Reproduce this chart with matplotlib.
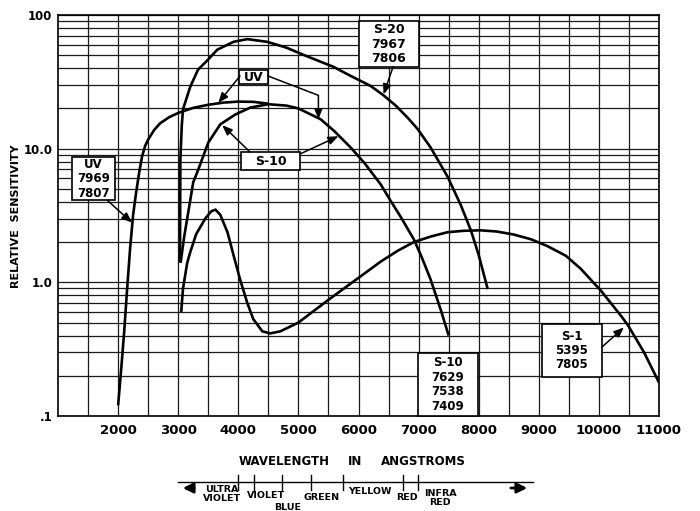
import matplotlib
matplotlib.use("Agg")
import matplotlib.pyplot as plt
from matplotlib.patches import Rectangle, FancyArrowPatch
from matplotlib.lines import Line2D
from matplotlib.ticker import FixedLocator, NullFormatter

plt.rcParams['font.family'] = ['DejaVu Sans']
plt.rcParams['font.weight'] = 'bold'

# ---- data (wavelength in Angstroms, relative sensitivity) ----
uv_wl = [2000, 2050, 2100, 2150, 2200, 2250, 2300, 2350, 2400, 2450, 2500, 2600,
         2700, 2850, 3000, 3250, 3500, 3750, 4000, 4250, 4500]
uv_val = [0.12, 0.22, 0.42, 0.89, 1.8, 3.2, 4.7, 6.6, 8.8, 10.5, 11.7, 13.8,
          15.5, 17.2, 18.5, 20.2, 21.3, 22.1, 22.5, 22.4, 21.7]

s10_wl = [3040, 3100, 3200, 3250, 3330, 3500, 3700, 3950, 4200, 4500, 4800, 5000,
          5370, 5600, 5870, 6100, 6370, 6530, 6700, 6920, 7050, 7200, 7370, 7500]
s10_val = [1.4, 2.2, 4.1, 5.6, 6.9, 11.1, 15.2, 18.0, 20.3, 21.5, 21.0, 20.0,
           16.6, 13.5, 10.2, 7.8, 5.4, 4.1, 3.1, 2.1, 1.55, 1.05, 0.62, 0.40]

s20_wl = [3030, 3033, 3036, 3060, 3080, 3200, 3330, 3500, 3650, 3920, 4150, 4480,
          4800, 5100, 5580, 5870, 6200, 6420, 6620, 6820, 6980, 7200, 7480, 7700,
          7870, 8000, 8150]
s20_val = [1.41, 4.0, 8.3, 15.0, 19.7, 29.0, 39.0, 46.5, 55.0, 63.0, 66.0, 63.0,
           57.0, 50.0, 41.0, 35.0, 29.5, 25.0, 21.0, 17.0, 14.1, 10.2, 6.2, 3.8,
           2.45, 1.6, 0.89]

s1_wl = [3050, 3080, 3150, 3200, 3300, 3370, 3450, 3550, 3620, 3700, 3820, 3920,
         4030, 4150, 4250, 4400, 4530, 4700, 5000, 5500, 6000, 6370, 6650, 6920,
         7200, 7480, 7750, 8030, 8300, 8580, 8870, 9150, 9450, 9700, 10030, 10370,
         10480, 10750, 11000]
s1_val = [0.6, 0.9, 1.4, 1.68, 2.3, 2.6, 3.0, 3.4, 3.5, 3.2, 2.37, 1.6,
          1.05, 0.7, 0.53, 0.43, 0.415, 0.43, 0.5, 0.74, 1.08, 1.43, 1.72, 2.0,
          2.2, 2.37, 2.43, 2.45, 2.4, 2.28, 2.1, 1.86, 1.58, 1.26, 0.87, 0.56,
          0.48, 0.30, 0.178]

x_ticks = [2000, 3000, 4000, 5000, 6000, 7000, 8000, 9000, 10000, 11000]
x_tick_labels = ['2000', '3000', '4000', '5000', '6000', '7000', '8000', '9000',
                 '10000', '11000']
y_ticks = [0.1, 1, 10, 100]
y_tick_labels = ['.1', '1.0', '10.0', '100']

spectrum_labels = ['ULTRA\nVIOLET', 'VIOLET', 'BLUE', 'GREEN', 'YELLOW', 'RED',
                   'INFRA\nRED']

# ---- figure ----
W, H = 700, 511
fig = plt.figure(figsize=(7.0, 5.11), dpi=100)
L, R, T, B = 58, 659, 15, 416
ax = fig.add_axes([L / W, 1 - B / H, (R - L) / W, (B - T) / H])

def af(x, y):
    return ((x - L) / (R - L), (B - y) / (B - T))

def ff(x, y):
    return (x / W, 1 - y / H)

ax.set_yscale('log')
ax.set_xlim(1000, 11000)
ax.set_ylim(0.1, 100)

ax.xaxis.set_major_locator(FixedLocator(x_ticks))
ax.set_xticklabels(x_tick_labels)
ax.xaxis.set_minor_locator(FixedLocator([1500 + 1000 * i for i in range(10)]))
ax.yaxis.set_major_locator(FixedLocator(y_ticks))
ax.set_yticklabels(y_tick_labels)
minor_y = [m * 10.0 ** e for e in (-1, 0, 1) for m in range(2, 10)]
ax.yaxis.set_minor_locator(FixedLocator(minor_y))
ax.yaxis.set_minor_formatter(NullFormatter())
ax.tick_params(which='both', length=0)
ax.tick_params(axis='x', pad=6, labelsize=9.5)
ax.tick_params(axis='y', pad=4, labelsize=8.5)
ax.grid(which='both', color='#1a1a1a', lw=0.9)
ax.set_axisbelow(True)
for s in ax.spines.values():
    s.set_linewidth(1.2)

# curves
for xs, ys in [(uv_wl, uv_val), (s10_wl, s10_val), (s20_wl, s20_val), (s1_wl, s1_val)]:
    ax.plot(xs, ys, color='black', lw=1.9, zorder=5, solid_capstyle='butt',
            solid_joinstyle='round')

# label boxes (pixel layout)
def box(x0, y0, x1, y1, text, fs=8.5, ls=1.15):
    (ax0, ay1) = af(x0, y1)
    (ax1, ay0) = af(x1, y0)
    ax.add_patch(Rectangle((ax0, ay1), ax1 - ax0, ay0 - ay1, transform=ax.transAxes,
                           facecolor='white', edgecolor='black', lw=1.2, zorder=3,
                           clip_on=False))
    cx, cy = af((x0 + x1) / 2, (y0 + y1) / 2)
    ax.text(cx, cy, text, transform=ax.transAxes, ha='center', va='center',
            fontsize=fs, fontweight='bold', linespacing=ls, zorder=4)

def arrow(start_px, tip, conn='arc3'):
    ax.annotate('', xy=tip, xycoords='data', xytext=af(*start_px),
                textcoords='axes fraction',
                arrowprops=dict(arrowstyle='-|>,head_length=0.55,head_width=0.22',
                                lw=1.1, color='black', shrinkA=0, shrinkB=0,
                                mutation_scale=11, connectionstyle=conn),
                zorder=6)

box(72, 157, 115, 200, 'UV\n7969\n7807')
arrow((107, 200), (2230, 2.8))

box(239, 70, 268, 84, 'UV', fs=9)
arrow((240, 76), (3667, 22))
arrow((268, 76), (5333, 16.6), conn='angle,angleA=-21,angleB=90,rad=0')

box(241, 152, 300, 170, 'S-10', fs=9)
arrow((250, 152), (3733, 15))
arrow((300, 154), (5667, 12.4))

box(359, 21, 419, 67, 'S-20\n7967\n7806', fs=9)
arrow((393, 67), (6417, 25.5))

box(418, 353, 478, 416, 'S-10\n7629\n7538\n7409')

box(542, 324, 602, 377, 'S-1\n5395\n7805')
arrow((602, 347), (10417, 0.46))

# axis labels
fig.text(*ff(16, 216), 'RELATIVE  SENSITIVITY', rotation=90, ha='center', va='center',
         fontsize=8, fontweight='bold')
fig.text(*ff(284, 461), 'WAVELENGTH', ha='center', va='center', fontsize=8.5,
         fontweight='bold')
fig.text(*ff(355, 461), 'IN', ha='center', va='center', fontsize=8.5, fontweight='bold')
fig.text(*ff(423, 461), 'ANGSTROMS', ha='center', va='center', fontsize=8.5,
         fontweight='bold')

# spectrum bar
def fline(xs, ys, lw=1.0):
    pts = [ff(x, y) for x, y in zip(xs, ys)]
    fig.add_artist(Line2D([p[0] for p in pts], [p[1] for p in pts], color='black',
                          lw=lw, transform=fig.transFigure))

fline([178, 533], [482, 482])
for tx in [238, 254, 282, 311, 343, 403, 418]:
    fline([tx, tx], [475, 490])

for (sx, ex) in [(197, 180), (508, 530)]:
    fig.add_artist(FancyArrowPatch(
        ff(sx, 488), ff(ex, 488), transform=fig.transFigure,
        arrowstyle='-|>,head_length=0.6,head_width=0.3', mutation_scale=10,
        lw=2.0, color='black'))

label_pos = [(222, 494), (266.5, 496), (288, 507), (322, 497), (369.5, 491),
             (406.5, 497), (440, 498)]
for txt, (px, py) in zip(spectrum_labels, label_pos):
    fig.text(*ff(px, py), txt, ha='center', va='center', fontsize=6.8,
             fontweight='bold', linespacing=0.95)

fig.savefig('out.png', dpi=100)
